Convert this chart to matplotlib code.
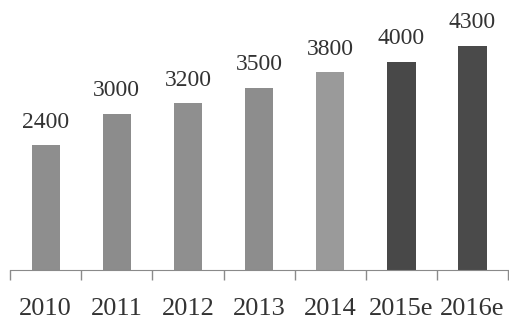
import numpy as np
import matplotlib.pyplot as plt

# datos del gráfico
years = ['2010', '2011', '2012', '2013', '2014', '2015e', '2016e']
values = [2400, 3000, 3200, 3500, 3800, 4000, 4300]
colors = ['#8e8e8e', '#8c8c8c', '#8f8f8f', '#8d8d8d', '#9a9a9a', '#484848', '#4a4a4a']

plt.rcParams['font.family'] = ['Liberation Serif', 'DejaVu Serif']

fig = plt.figure(figsize=(5.09, 3.22), dpi=100)
ax = fig.add_axes([0.02, 0.16, 0.978, 0.84])

x = np.arange(len(years))
bars = ax.bar(x, values, width=0.4, color=colors)

# etiquetas de valor sobre cada barra
for xi, v in zip(x, values):
    ax.annotate(str(v), (xi, v), xytext=(0, 9), textcoords='offset points',
                ha='center', va='bottom', fontsize=17, color='#333333')

ax.set_xlim(-0.5, len(years) - 0.5)
ax.set_ylim(0, 5180)

# marcas en los bordes de cada categoría, etiquetas en el centro
ax.set_xticks(np.arange(-0.5, len(years)), minor=False)
ax.set_xticklabels([])
ax.set_xticks(x, minor=True)
ax.set_xticklabels(years, minor=True, fontsize=19, color='#333333')
ax.tick_params(axis='x', which='major', length=7, width=1, color='#8a8a8a', direction='out')
ax.tick_params(axis='x', which='minor', length=0, pad=20)

ax.set_yticks([])
for s in ['top', 'right', 'left']:
    ax.spines[s].set_visible(False)
ax.spines['bottom'].set_color('#8a8a8a')

fig.savefig('out.png', dpi=100)
